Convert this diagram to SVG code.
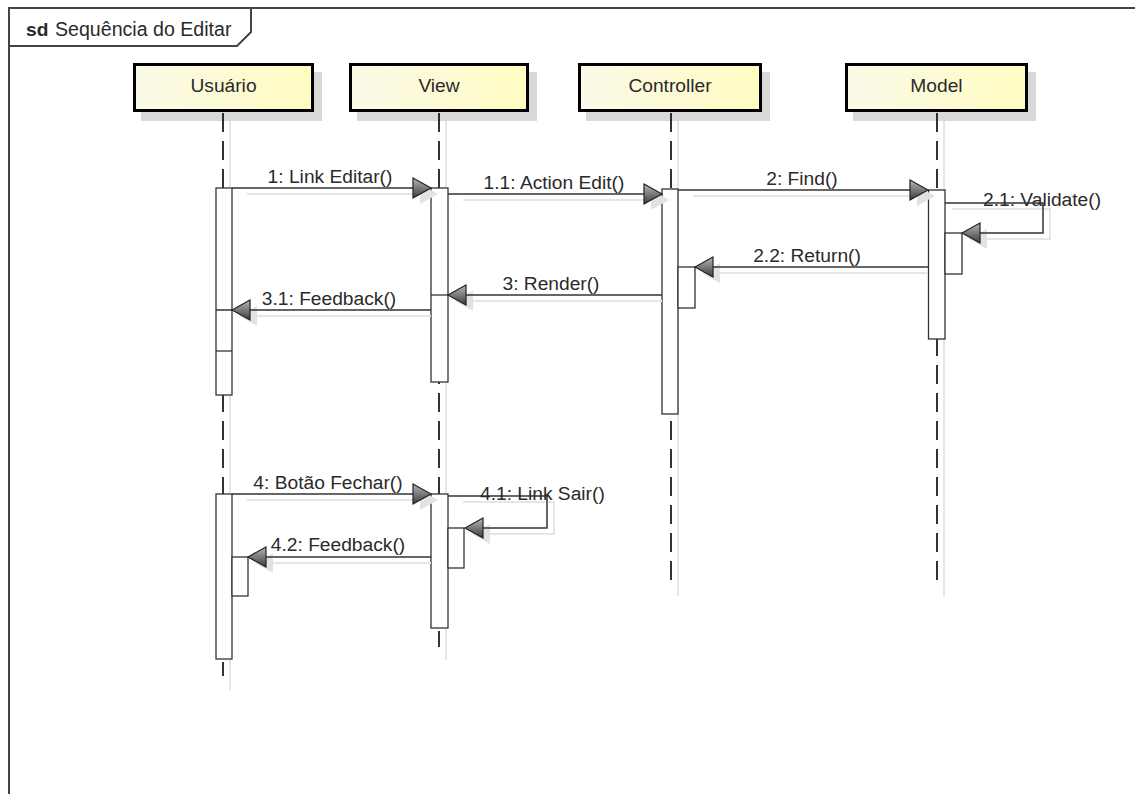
<svg xmlns="http://www.w3.org/2000/svg" width="1135" height="794" viewBox="0 0 1135 794">
  <style>
    .lbl { font-family: "Liberation Sans", Arial, sans-serif; font-size: 19.2px; fill: #2a2a2a; }
    .head { fill: url(#headGrad); stroke: #222; stroke-width: 1.2; }
    .hshadow { fill: #e2e2e2; }
    .box { fill: url(#boxGrad); stroke: #000; stroke-width: 3; }
    .boxshadow { fill: #d9d9d9; }
    .life { stroke: #000; stroke-width: 1.6; stroke-dasharray: 19 9; fill: none; }
    .stub { stroke: #000; stroke-width: 1.6; fill: none; }
    .lifeshadow { stroke: #e6e6e6; stroke-width: 2; fill: none; }
    .bar { fill: #fff; stroke: #333; stroke-width: 1.3; }
    .msg { stroke: #333; stroke-width: 1.5; fill: none; }
    .msgshadow { stroke: #e6e6e6; stroke-width: 2; fill: none; }
    .frame { stroke: #444; stroke-width: 2; fill: none; }
  </style>
  <defs>
    <linearGradient id="boxGrad" x1="0" y1="0" x2="1" y2="0">
      <stop offset="0" stop-color="#fbf9e8"/>
      <stop offset="1" stop-color="#fffcc2"/>
    </linearGradient>
    <linearGradient id="headGrad" x1="0" y1="0" x2="0" y2="1">
      <stop offset="0" stop-color="#b8b8b8"/>
      <stop offset="1" stop-color="#3c3c3c"/>
    </linearGradient>
    <!-- arrowheads: tip at origin -->
    <polygon id="headR" points="0,0 -18,-10 -18,10"/>
    <polygon id="headL" points="0,0 18,-10 18,10"/>
  </defs>

  <rect width="1135" height="794" fill="#fff"/>

  <!-- frame -->
  <g id="frame">
    <path class="frame" d="M9,800 V8 H1140"/>
    <path class="frame" d="M9,8 H251 V32 L237,46 H9"/>
    <text x="26" y="36" class="lbl" font-weight="bold">sd</text>
    <text x="55" y="36" class="lbl" style="font-size:19.6px">Sequência do Editar</text>
  </g>

  <!-- lifeline shadows -->
  <g id="lifeline-shadows">
    <line class="lifeshadow" x1="230" y1="121" x2="230" y2="690"/>
    <line class="lifeshadow" x1="446" y1="121" x2="446" y2="660"/>
    <line class="lifeshadow" x1="678" y1="121" x2="678" y2="596"/>
    <line class="lifeshadow" x1="944" y1="121" x2="944" y2="596"/>
  </g>

  <!-- lifelines -->
  <g id="user">
    <rect class="boxshadow" x="141" y="72" width="181" height="49"/>
    <rect class="box" x="134.5" y="64.5" width="178" height="46"/>
    <text x="223.5" y="92" class="lbl" text-anchor="middle">Usuário</text>
    <line class="life" x1="223" y1="113" x2="223" y2="494"/>
    <line class="stub" x1="223" y1="662" x2="223" y2="676"/>
    <rect class="bar" x="216" y="188" width="16" height="207"/>
    <line stroke="#333" stroke-width="1.3" x1="216" y1="351" x2="232" y2="351"/>
    <rect class="bar" x="216" y="494" width="16" height="165"/>
    <rect class="bar" x="232" y="557" width="16" height="39"/>
  </g>

  <g id="view">
    <rect class="boxshadow" x="357" y="72" width="180" height="49"/>
    <rect class="box" x="350.5" y="64.5" width="177" height="46"/>
    <text x="439" y="92" class="lbl" text-anchor="middle">View</text>
    <line class="life" x1="439" y1="113" x2="439" y2="494"/>
    <line class="stub" x1="439" y1="631" x2="439" y2="647"/>
    <rect class="bar" x="431" y="188" width="17" height="194"/>
    <line stroke="#333" stroke-width="1.3" x1="431" y1="295" x2="448" y2="295"/>
    <rect class="bar" x="431" y="494" width="17" height="134"/>
    <rect class="bar" x="448" y="528" width="16" height="40"/>
  </g>

  <g id="controller">
    <rect class="boxshadow" x="586" y="72" width="184" height="49"/>
    <rect class="box" x="579.5" y="64.5" width="181" height="46"/>
    <text x="670" y="92" class="lbl" text-anchor="middle">Controller</text>
    <line class="life" x1="671" y1="113" x2="671" y2="580"/>
    <rect class="bar" x="662" y="189" width="16" height="225"/>
    <rect class="bar" x="678" y="267" width="17" height="41"/>
  </g>

  <g id="model">
    <rect class="boxshadow" x="853" y="72" width="183" height="49"/>
    <rect class="box" x="846.5" y="64.5" width="180" height="46"/>
    <text x="936.5" y="92" class="lbl" text-anchor="middle">Model</text>
    <line class="life" x1="937" y1="113" x2="937" y2="580"/>
    <rect class="bar" x="928.5" y="190" width="16.5" height="149"/>
    <rect class="bar" x="945" y="233" width="17" height="41"/>
  </g>

  <!-- messages -->
  <g id="connectors">
    <g transform="translate(7,6)">
      <path class="msgshadow" d="M240,188 H420 M456,194 H650 M686,190 H916 M945,203 H1043 V233 H975 M920,267 H708 M655,295 H460 M424,310 H245 M240,494 H420 M456,496 H547 V528 H478 M424,557 H262"/>
      <use href="#headR" class="hshadow" x="431" y="188"/>
      <use href="#headR" class="hshadow" x="662" y="194"/>
      <use href="#headR" class="hshadow" x="928" y="190"/>
      <use href="#headL" class="hshadow" x="962" y="233"/>
      <use href="#headL" class="hshadow" x="695" y="267"/>
      <use href="#headL" class="hshadow" x="448" y="295"/>
      <use href="#headL" class="hshadow" x="232" y="310"/>
      <use href="#headR" class="hshadow" x="431" y="494"/>
      <use href="#headL" class="hshadow" x="465" y="528"/>
      <use href="#headL" class="hshadow" x="248" y="557"/>
    </g>

    <path class="msg" d="M232,188 H413"/>
    <use href="#headR" class="head" x="431" y="188"/>

    <path class="msg" d="M448,194 H644"/>
    <use href="#headR" class="head" x="662" y="194"/>

    <path class="msg" d="M678,190 H910"/>
    <use href="#headR" class="head" x="928" y="190"/>

    <path class="msg" d="M945,203 H1043 V233 H980"/>
    <use href="#headL" class="head" x="962" y="233"/>

    <path class="msg" d="M928,267 H713"/>
    <use href="#headL" class="head" x="695" y="267"/>

    <path class="msg" d="M662,295 H466"/>
    <use href="#headL" class="head" x="448" y="295"/>

    <path class="msg" d="M216,310 H232 M431,310 H250"/>
    <use href="#headL" class="head" x="232" y="310"/>

    <path class="msg" d="M232,494 H413"/>
    <use href="#headR" class="head" x="431" y="494"/>

    <path class="msg" d="M448,496 H547 V528 H483"/>
    <use href="#headL" class="head" x="465" y="528"/>

    <path class="msg" d="M431,557 H266"/>
    <use href="#headL" class="head" x="248" y="557"/>
  </g>

  <!-- message labels -->
  <g id="labels">
    <text x="330" y="183" class="lbl" text-anchor="middle">1: Link Editar()</text>
    <text x="554" y="189" class="lbl" text-anchor="middle">1.1: Action Edit()</text>
    <text x="802" y="185" class="lbl" text-anchor="middle">2: Find()</text>
    <text x="983" y="206" class="lbl">2.1: Validate()</text>
    <text x="807" y="262" class="lbl" text-anchor="middle">2.2: Return()</text>
    <text x="551" y="290" class="lbl" text-anchor="middle">3: Render()</text>
    <text x="329" y="305" class="lbl" text-anchor="middle">3.1: Feedback()</text>
    <text x="328" y="489" class="lbl" text-anchor="middle">4: Botão Fechar()</text>
    <text x="480" y="500" class="lbl">4.1: Link Sair()</text>
    <text x="338" y="551" class="lbl" text-anchor="middle">4.2: Feedback()</text>
  </g>
</svg>
